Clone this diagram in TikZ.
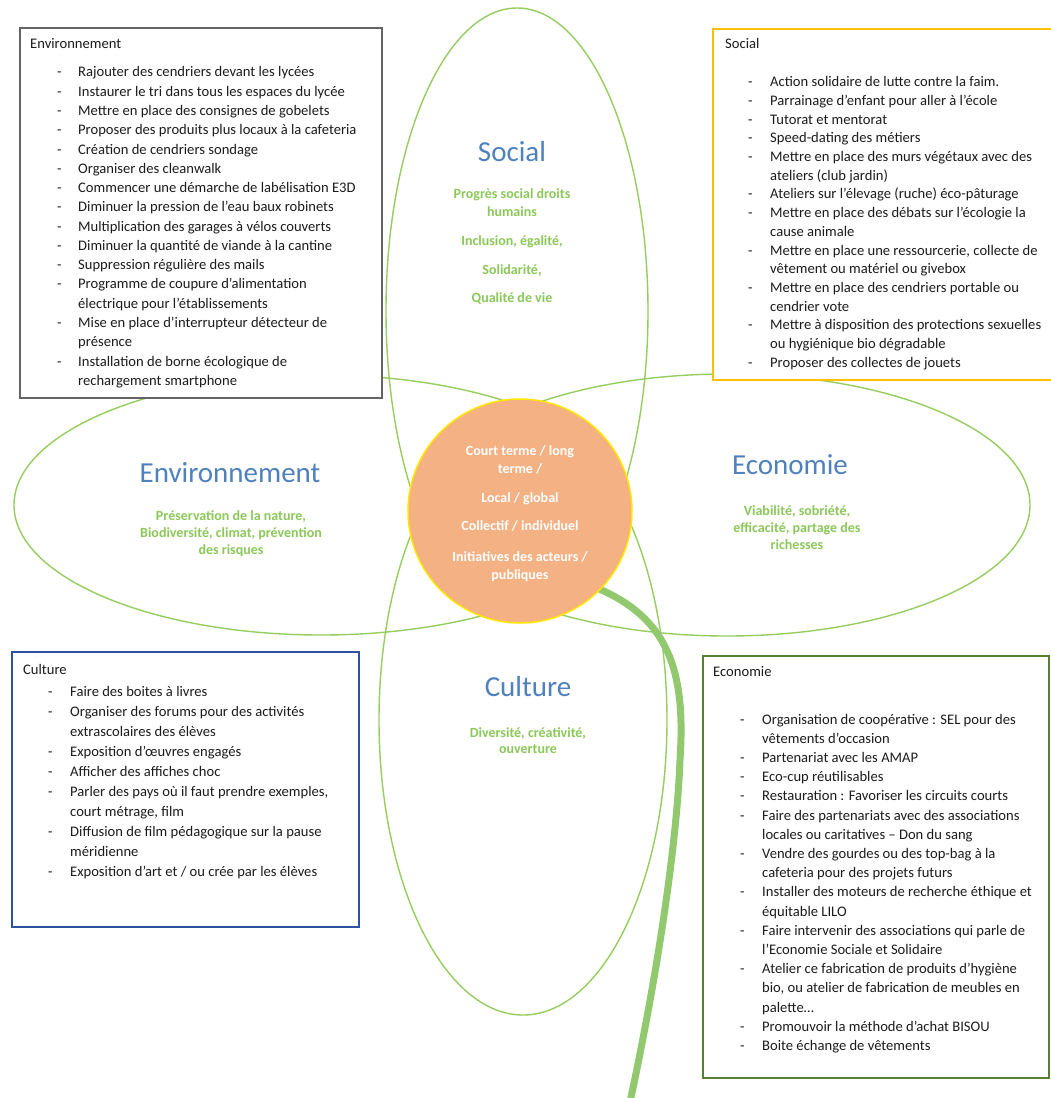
\documentclass[tikz,border=0pt]{standalone}
\usepackage{fontspec}
\setmainfont{Carlito}
\usepackage{array}
\definecolor{petalgreen}{RGB}{150,205,95}
\definecolor{stemgreen}{RGB}{146,200,110}
\definecolor{centerfill}{RGB}{244,177,131}
\definecolor{centerline}{RGB}{255,230,0}
\definecolor{titleblue}{RGB}{79,129,189}
\definecolor{subgreen}{RGB}{139,200,89}
\definecolor{boxtxt}{RGB}{28,28,28}
\definecolor{envframe}{RGB}{100,100,100}
\definecolor{socframe}{RGB}{255,192,0}
\definecolor{culframe}{RGB}{47,82,160}
\definecolor{ecoframe}{RGB}{84,130,53}
\newlength\dashw
\newcommand\dsh{\makebox[\dashw][l]{-}}
\begin{document}
\begin{tikzpicture}[x=1pt,y=-1pt,
  petal/.style={draw=petalgreen,line width=1.4pt},
  framebox/.style={draw,fill=white,line width=2.5pt,anchor=north west,inner sep=0pt,outer sep=0pt},
  boxtext/.style={font=\fontsize{14.6}{19.27}\selectfont,text=boxtxt,inner sep=0pt,anchor=base west},
  ptitle/.style={font=\fontsize{29}{35}\selectfont,text=titleblue,inner sep=0pt,anchor=base},
  psub/.style={font=\bfseries\fontsize{14}{17}\selectfont,text=subgreen,inner sep=0pt,anchor=base},
  ctext/.style={font=\bfseries\fontsize{14}{18.5}\selectfont,text=white,inner sep=0pt,anchor=base}]
\useasboundingbox (0,0) rectangle (1050,1098);
\fill[white] (0,0) rectangle (1050,1098);

% petals
\draw[petal] (517,311) ellipse [x radius=131, y radius=303];
\draw[petal] (523,720) ellipse [x radius=144, y radius=295];
\draw[petal] (321,505) ellipse [x radius=307, y radius=130];
\draw[petal] (727,505) ellipse [x radius=303, y radius=131];

% boxes
\node[framebox,draw=envframe,minimum width=362pt,minimum height=370pt] (envbox) at (20,28) {};
\node[framebox,draw=socframe,minimum width=340pt,minimum height=351pt] (socbox) at (713,29) {};
\node[framebox,draw=culframe,minimum width=347pt,minimum height=275pt] (culbox) at (12,652) {};
\node[framebox,draw=ecoframe,minimum width=346pt,minimum height=422pt] (ecobox) at (703,656) {};

% stem and centre
\coordinate (stemstart) at (597,588);
\coordinate (stemend) at (630,1102);
\draw[stemgreen,line width=7pt] (stemstart) .. controls (668,618) and (686,670) .. (680,760)
  .. controls (676,860) and (652,1000) .. (stemend);
\node[circle,draw=centerline,line width=1.5pt,fill=centerfill,minimum size=224pt,inner sep=0pt] (circ) at (520,511) {};

\node[ctext] (ctxt) at (520,455) {\begin{tabular}[t]{@{}c@{}}
Court terme / long\\ terme /\\[10pt]
Local / global\\[10pt]
Collectif / individuel\\[12pt]
Initiatives des acteurs /\\ publiques
\end{tabular}};

% petal texts
\node[ptitle] (socT) at (512,161) {Social};
\node[psub,font=\bfseries\fontsize{14}{18}\selectfont] (socS) at (512,198) {\begin{tabular}[t]{@{}c@{}}
Progrès social droits\\ humains\\[11pt]
Inclusion, égalité,\\[11pt]
Solidarité,\\[10pt]
Qualité de vie
\end{tabular}};

\node[ptitle] (envT) at (230,482) {Environnement};
\node[psub] (envS) at (231,520) {\begin{tabular}[t]{@{}c@{}}
Préservation de la nature,\\ Biodiversité, climat, prévention\\ des risques
\end{tabular}};

\node[ptitle] (ecoT) at (790,474) {Economie};
\node[psub] (ecoS) at (797,515) {\begin{tabular}[t]{@{}c@{}}
Viabilité, sobriété,\\ efficacité, partage des\\ richesses
\end{tabular}};

\node[ptitle] (culT) at (528,696) {Culture};
\node[psub,font=\bfseries\fontsize{14}{16}\selectfont] (culS) at (528,737) {\begin{tabular}[t]{@{}c@{}}
Diversité, créativité,\\ ouverture
\end{tabular}};

% box texts
\node[boxtext] (envtxt) at (30,48) {\setlength\dashw{21pt}\begin{tabular}[t]{@{\hspace{27pt}}l@{}l@{}}
\multicolumn{2}{@{}l@{}}{Environnement}\\[9.7pt]
\dsh & Rajouter des cendriers devant les lycées\\
\dsh & Instaurer le tri dans tous les espaces du lycée\\
\dsh & Mettre en place des consignes de gobelets\\
\dsh & Proposer des produits plus locaux à la cafeteria\\
\dsh & Création de cendriers sondage\\
\dsh & Organiser des cleanwalk\\
\dsh & Commencer une démarche de labélisation E3D\\
\dsh & Diminuer la pression de l’eau baux robinets\\
\dsh & Multiplication des garages à vélos couverts\\
\dsh & Diminuer la quantité de viande à la cantine\\
\dsh & Suppression régulière des mails\\
\dsh & Programme de coupure d’alimentation\\
     & électrique pour l’établissements\\
\dsh & Mise en place d’interrupteur détecteur de\\
     & présence\\
\dsh & Installation de borne écologique de\\
     & rechargement smartphone
\end{tabular}};

\node[boxtext,font=\fontsize{14.6}{18.67}\selectfont] (soctxt) at (725,48) {\setlength\dashw{22pt}\begin{tabular}[t]{@{\hspace{23pt}}l@{}l@{}}
\multicolumn{2}{@{}l@{}}{Social}\\[20.3pt]
\dsh & Action solidaire de lutte contre la faim.\\
\dsh & Parrainage d’enfant pour aller à l’école\\
\dsh & Tutorat et mentorat\\
\dsh & Speed-dating des métiers\\
\dsh & Mettre en place des murs végétaux avec des\\
     & ateliers (club jardin)\\
\dsh & Ateliers sur l’élevage (ruche) éco-pâturage\\
\dsh & Mettre en place des débats sur l’écologie la\\
     & cause animale\\
\dsh & Mettre en place une ressourcerie, collecte de\\
     & vêtement ou matériel ou givebox\\
\dsh & Mettre en place des cendriers portable ou\\
     & cendrier vote\\
\dsh & Mettre à disposition des protections sexuelles\\
     & ou hygiénique bio dégradable\\
\dsh & Proposer des collectes de jouets
\end{tabular}};

\node[boxtext,font=\fontsize{14.6}{20.1}\selectfont] (cultxt) at (23,674) {\setlength\dashw{22pt}\begin{tabular}[t]{@{\hspace{25pt}}l@{}l@{}}
\multicolumn{2}{@{}l@{}}{Culture}\\[1.9pt]
\dsh & Faire des boites à livres\\
\dsh & Organiser des forums pour des activités\\
     & extrascolaires des élèves\\
\dsh & Exposition d’œuvres engagés\\
\dsh & Afficher des affiches choc\\
\dsh & Parler des pays où il faut prendre exemples,\\
     & court métrage, film\\
\dsh & Diffusion de film pédagogique sur la pause\\
     & méridienne\\
\dsh & Exposition d’art et / ou crée par les élèves
\end{tabular}};

\node[boxtext,font=\fontsize{14.6}{19.2}\selectfont] (ecotxt) at (713,676) {\setlength\dashw{22pt}\begin{tabular}[t]{@{\hspace{27pt}}l@{}l@{}}
\multicolumn{2}{@{}l@{}}{Economie}\\[28.8pt]
\dsh & Organisation de coopérative : SEL pour des\\
     & vêtements d’occasion\\
\dsh & Partenariat avec les AMAP\\
\dsh & Eco-cup réutilisables\\
\dsh & Restauration : Favoriser les circuits courts\\
\dsh & Faire des partenariats avec des associations\\
     & locales ou caritatives – Don du sang\\
\dsh & Vendre des gourdes ou des top-bag à la\\
     & cafeteria pour des projets futurs\\
\dsh & Installer des moteurs de recherche éthique et\\
     & équitable LILO\\
\dsh & Faire intervenir des associations qui parle de\\
     & l’Economie Sociale et Solidaire\\
\dsh & Atelier ce fabrication de produits d’hygiène\\
     & bio, ou atelier de fabrication de meubles en\\
     & palette…\\
\dsh & Promouvoir la méthode d’achat BISOU\\
\dsh & Boite échange de vêtements
\end{tabular}};
\end{tikzpicture}
\end{document}
